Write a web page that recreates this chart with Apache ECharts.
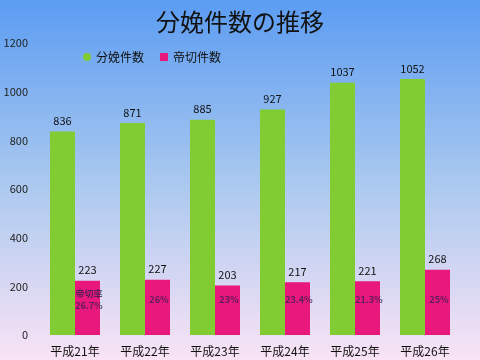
<!DOCTYPE html>
<html><head><meta charset="utf-8">
<script src="https://cdn.jsdelivr.net/npm/echarts@6/dist/echarts.min.js"></script>
<style>html,body{margin:0;padding:0;}#c{width:480px;height:360px;}</style>
</head><body><div id="c"></div>
<script>
var categories = ['平成21年','平成22年','平成23年','平成24年','平成25年','平成26年'];
var deliveries = [836, 871, 885, 927, 1037, 1052];
var cesareans = [223, 227, 203, 217, 221, 268];
var rateLabels = ['帝切率\n26.7%', '26%', '23%', '23.4%', '21.3%', '25%'];
var rateLevel = [145, 145, 145, 145, 145, 145];

var chart = echarts.init(document.getElementById('c'));
chart.setOption({
  backgroundColor: new echarts.graphic.LinearGradient(0,0,0,1,[
    {offset:0,color:'#5b9cf2'},{offset:0.5,color:'#a9c8ef'},{offset:1,color:'#f9e3f5'}]),
  textStyle:{fontFamily:'"Noto Sans CJK JP", sans-serif'},
  title:{text:'分娩件数の推移',left:'center',top:5,textStyle:{fontSize:24,fontWeight:'normal',color:'#111'}},
  legend:{left:78,top:46,itemWidth:8,itemHeight:8,itemGap:16,textStyle:{fontSize:12,color:'#111'},
    data:[{name:'分娩件数',icon:'circle'},{name:'帝切件数',icon:'rect'}]},
  grid:{left:40,right:20,top:43,bottom:25,containLabel:false},
  xAxis:{type:'category',data:categories,axisLine:{show:false},axisTick:{show:false},
    axisLabel:{fontSize:12,color:'#111',margin:10}},
  yAxis:{type:'value',min:0,max:1200,interval:200,splitLine:{show:false},axisLine:{show:false},
    axisLabel:{fontSize:11,color:'#222',margin:12,formatter:function(v){return String(v);}}},
  series:[
    {name:'分娩件数',type:'bar',data:deliveries,barWidth:25,barGap:'0%',itemStyle:{color:'#82cc33'},
      label:{show:true,position:'top',fontSize:11,color:'#111',distance:5}},
    {name:'帝切件数',type:'bar',data:cesareans,barWidth:25,itemStyle:{color:'#e8187c'},
      label:{show:true,position:'top',fontSize:11,color:'#111',distance:5}},
    {name:'rate',type:'scatter',data:rateLevel,symbolSize:0,silent:true,z:10,
      label:{show:true,position:'inside',offset:[14,0],fontSize:9,fontWeight:'bold',color:'#3a2050',lineHeight:12,
        formatter:function(p){return rateLabels[p.dataIndex];}}}
  ]
});
</script></body></html>
